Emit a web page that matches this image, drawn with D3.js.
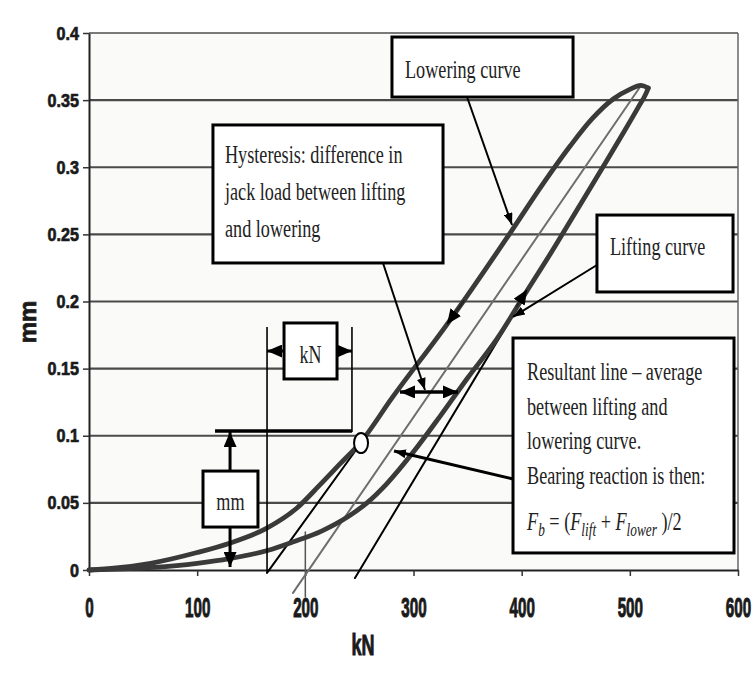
<!DOCTYPE html>
<html>
<head>
<meta charset="utf-8">
<script src="https://cdn.jsdelivr.net/npm/d3@7"></script>
<style>
  body { margin: 0; background: #fff; }
  svg { display: block; }
</style>
</head>
<body>
<script>
   // jack load (kN) against displacement (mm)
   let liftKN = [0, 30, 60, 100, 130, 165, 189, 215, 240, 257, 275, 300, 325, 350, 377, 405, 430, 451, 475, 495, 508, 515, 517];
   let liftMM = [0, 0.0008, 0.002, 0.005, 0.0085, 0.0145, 0.021, 0.029, 0.04, 0.05, 0.064, 0.088, 0.115, 0.143, 0.172, 0.208, 0.24, 0.268, 0.3, 0.327, 0.345, 0.355, 0.359];
   let lowerKN = [0, 25, 57, 100, 130, 164, 192, 213, 232, 251, 280, 331, 391, 420, 445, 465, 485, 500, 510, 517];
   let lowerMM = [0, 0.0015, 0.005, 0.013, 0.02, 0.031, 0.046, 0.063, 0.079, 0.095, 0.128, 0.183, 0.253, 0.288, 0.316, 0.336, 0.351, 0.358, 0.361, 0.359];

   let xTicks = [0, 100, 200, 300, 400, 500, 600];
   let yTicks = [0, 0.05, 0.1, 0.15, 0.2, 0.25, 0.3, 0.35, 0.4];
   let yTickLabels = ['0', '0.05', '0.1', '0.15', '0.2', '0.25', '0.3', '0.35', '0.4'];

   // straight construction lines [kN, mm]
   let tangentLower = [[164.6, -0.0022], [251.5, 0.0946]];
   let tangentLift = [[245.9, -0.006], [392, 0.19]];
   let resultantLine = [[188.6, -0.017], [509.4, 0.3598]];
   let mark200 = [[200, 0.0283], [200, -0.02]];
   let meanPoint = [251.5, 0.0946];

   // dimension lines for the kN / mm call-outs
   let dimLeft = [[164.6, 0.181], [164.6, -0.0022]];
   let dimRight = [[243.1, 0.181], [243.1, 0.1028]];
   let dimLevel = [[116.5, 0.1035], [243.1, 0.1035]];
   let kNArrowLeft = [[180.3, 0.1631], [164.6, 0.1631]];
   let kNArrowRight = [[229.3, 0.1631], [243.1, 0.1631]];
   let mmArrowUp = [[130.4, 0.0737], [130.4, 0.1028]];
   let mmArrowDown = [[130.4, 0.032], [130.4, 0.0022]];
   let hystArrow = [[287.5, 0.1326], [341.1, 0.1326]];

   // call-out pointers
   let arrowLowering = [[349.5, 0.3523], [391.1, 0.257]];
   let arrowHysteresis = [[271.8, 0.2287], [310.6, 0.1341]];
   let arrowLifting = [[469.6, 0.2272], [392, 0.1885]];
   let arrowResultant = [[392, 0.0678], [282, 0.0886]];
   let dirLowering = [[347, 0.201], [331, 0.183]];
   let dirLifting = [[395, 0.196], [405, 0.209]];

   // call-out boxes [kN left, mm top, kN right, mm bottom]
   let boxLowering = [280.1, 0.397, 447.5, 0.3523];
   let boxHysteresis = [114.6, 0.3315, 327.3, 0.2287];
   let boxLifting = [469.6, 0.2644, 595.4, 0.2071];
   let boxResultant = [392.0, 0.1728, 596.3, 0.0127];
   let boxKN = [180.3, 0.184, 229.3, 0.1423];
   let boxMM = [105.4, 0.0737, 156.2, 0.032];

   let width = 755;
   let height = 675;
   let svg = d3.select('body').append('svg')
      .attr('width', width)
      .attr('height', height);

   let xScale = d3.scaleLinear().domain([0, 600]).range([89, 738]);
   let yScale = d3.scaleLinear().domain([0, 0.4]).range([570, 33]);

   let defs = svg.append('defs');
   let makeArrow = (id, len, wid) => {
      defs.append('marker')
         .attr('id', id)
         .attr('markerUnits', 'userSpaceOnUse')
         .attr('viewBox', '0 0 ' + len + ' ' + wid)
         .attr('markerWidth', len)
         .attr('markerHeight', wid)
         .attr('refX', len)
         .attr('refY', wid / 2)
         .attr('orient', 'auto-start-reverse')
         .append('path')
         .attr('d', 'M0,0L' + len + ',' + (wid / 2) + 'L0,' + wid + 'Z')
         .attr('fill', '#000');
   };
   makeArrow('arrow', 12, 9);
   makeArrow('arrowBig', 15, 13);

   let seg = d3.line().x(d => xScale(d[0])).y(d => yScale(d[1]));

   let serif = '"Liberation Serif", "Times New Roman", serif';
   let sans = '"Liberation Sans", Arial, sans-serif';

   // text squeezed like the scanned original
   let addText = (g, x, y, str, size, sx, sy) => {
      return g.append('text')
         .attr('transform', 'translate(' + x + ',' + y + ') scale(' + sx + ',' + sy + ')')
         .attr('font-size', size)
         .text(str);
   };

   // plot area
   svg.append('rect')
      .attr('x', xScale(0)).attr('y', yScale(0.4))
      .attr('width', xScale(600) - xScale(0))
      .attr('height', yScale(0) - yScale(0.4))
      .attr('fill', '#fafaf9');

   svg.append('g')
      .selectAll('line')
      .data(yTicks.filter(t => t > 0))
      .enter()
      .append('line')
      .attr('x1', xScale(0)).attr('x2', xScale(600))
      .attr('y1', d => yScale(d)).attr('y2', d => yScale(d))
      .attr('stroke', d => d === 0.4 ? '#7a7a7a' : '#4a4a4a')
      .attr('stroke-width', 2.2);

   svg.append('line')
      .attr('x1', xScale(600)).attr('x2', xScale(600))
      .attr('y1', yScale(0.4)).attr('y2', yScale(0))
      .attr('stroke', '#666').attr('stroke-width', 1.5);

   // axes
   let yAxis = d3.axisLeft(yScale).tickValues(yTicks).tickSize(6).tickSizeOuter(0)
      .tickFormat((d, i) => yTickLabels[i]);
   let yG = svg.append('g').attr('transform', 'translate(' + xScale(0) + ',0)').call(yAxis);
   yG.select('.domain').attr('stroke', '#222').attr('stroke-width', 2);
   yG.selectAll('.tick line').attr('stroke', '#333').attr('stroke-width', 1.5);
   yG.selectAll('.tick text')
      .attr('x', null).attr('dy', null)
      .attr('transform', 'translate(-10,6) scale(0.85,1)');

   let xAxis = d3.axisBottom(xScale).tickValues(xTicks).tickSize(6).tickSizeOuter(0);
   let xG = svg.append('g').attr('transform', 'translate(0,' + yScale(0) + ')').call(xAxis);
   xG.select('.domain').attr('stroke', '#222').attr('stroke-width', 2);
   xG.selectAll('.tick line').attr('stroke', '#333').attr('stroke-width', 1.5);
   xG.selectAll('.tick text')
      .attr('y', null).attr('dy', null)
      .attr('transform', 'translate(0,47) scale(0.8,1.5)');

   svg.selectAll('.tick text')
      .style('font-family', sans).style('font-size', '19px').style('font-weight', 'bold')
      .attr('fill', '#1a1a1a').attr('stroke', '#1a1a1a').attr('stroke-width', 0.7);

   // axis titles
   svg.append('text')
      .attr('transform', 'translate(36,322) rotate(-90)')
      .attr('text-anchor', 'middle')
      .attr('font-family', sans).attr('font-weight', 'bold').attr('font-size', 24)
      .attr('fill', '#1a1a1a').attr('stroke', '#1a1a1a').attr('stroke-width', 0.7)
      .text('mm');
   addText(svg, 363, 655, 'kN', 20, 0.9, 1.5)
      .attr('text-anchor', 'middle')
      .attr('font-family', sans).attr('font-weight', 'bold')
      .attr('fill', '#1a1a1a').attr('stroke', '#1a1a1a').attr('stroke-width', 0.7);

   // construction lines
   let thin = svg.append('g').attr('fill', 'none').attr('stroke-linecap', 'round');
   thin.append('path').attr('d', seg(mark200)).attr('stroke', '#555').attr('stroke-width', 1.5);
   thin.append('path').attr('d', seg(resultantLine)).attr('stroke', '#6e6e6e').attr('stroke-width', 2);

   // hysteresis loop
   let loopLine = d3.line()
      .x(d => xScale(d[0]))
      .y(d => yScale(d[1]))
      .curve(d3.curveMonotoneX);
   let liftPts = liftKN.map((k, i) => [k, liftMM[i]]);
   let lowerPts = lowerKN.map((k, i) => [k, lowerMM[i]]);
   let loop = svg.append('g').attr('fill', 'none').attr('stroke-linecap', 'round').attr('stroke-linejoin', 'round');
   [liftPts, lowerPts].forEach(pts => {
      loop.append('path').attr('d', loopLine(pts)).attr('stroke', '#3a3a3a').attr('stroke-width', 4.8);
   });

   thin.append('path').attr('d', seg(tangentLower)).attr('stroke', '#000').attr('stroke-width', 2);
   thin.append('path').attr('d', seg(tangentLift)).attr('stroke', '#000').attr('stroke-width', 2);

   svg.append('ellipse')
      .attr('cx', xScale(meanPoint[0])).attr('cy', yScale(meanPoint[1]))
      .attr('rx', 7).attr('ry', 10)
      .attr('fill', '#fff').attr('stroke', '#000').attr('stroke-width', 2);

   // dimension marks
   let dims = svg.append('g').attr('fill', 'none').attr('stroke', '#000');
   dims.append('path').attr('d', seg(dimLeft)).attr('stroke-width', 1.6);
   dims.append('path').attr('d', seg(dimRight)).attr('stroke-width', 1.6);
   dims.append('path').attr('d', seg(dimLevel)).attr('stroke-width', 3.5);
   [kNArrowLeft, kNArrowRight, mmArrowUp, mmArrowDown].forEach(a => {
      dims.append('path').attr('d', seg(a)).attr('stroke-width', 3).attr('marker-end', 'url(#arrowBig)');
   });
   dims.append('path').attr('d', seg(hystArrow)).attr('stroke-width', 3.5)
      .attr('marker-start', 'url(#arrowBig)').attr('marker-end', 'url(#arrowBig)');

   // pointers
   [arrowLowering, arrowHysteresis, arrowLifting, arrowResultant].forEach((a, i) => {
      dims.append('path').attr('d', seg(a)).attr('stroke-width', i === 3 ? 3 : 2).attr('marker-end', 'url(#arrow)');
   });
   [dirLowering, dirLifting].forEach(a => {
      dims.append('path').attr('d', seg(a)).attr('stroke-width', 2).attr('stroke', '#262626').attr('marker-end', 'url(#arrowBig)');
   });

   // call-out boxes
   let drawBox = (b) => {
      let g = svg.append('g');
      g.append('rect')
         .attr('x', xScale(b[0])).attr('y', yScale(b[1]))
         .attr('width', xScale(b[2]) - xScale(b[0]))
         .attr('height', yScale(b[3]) - yScale(b[1]))
         .attr('fill', '#fff').attr('stroke', '#000').attr('stroke-width', 3);
      g.attr('font-family', serif).attr('fill', '#222');
      return g;
   };

   let gLow = drawBox(boxLowering);
   addText(gLow, xScale(boxLowering[0]) + 13, yScale(boxLowering[1]) + 41, 'Lowering curve', 26, 0.7, 1);

   let gHyst = drawBox(boxHysteresis);
   ['Hysteresis: difference in', 'jack load between lifting', 'and lowering'].forEach((s, i) => {
      addText(gHyst, xScale(boxHysteresis[0]) + 12, yScale(boxHysteresis[1]) + 38 + i * 37, s, 26, 0.7, 1);
   });

   let gLift = drawBox(boxLifting);
   addText(gLift, xScale(boxLifting[0]) + 13, yScale(boxLifting[1]) + 40, 'Lifting curve', 26, 0.7, 1);

   let gRes = drawBox(boxResultant);
   ['Resultant line \u2013 average', 'between lifting and', 'lowering curve.', 'Bearing reaction is then:'].forEach((s, i) => {
      addText(gRes, xScale(boxResultant[0]) + 14, yScale(boxResultant[1]) + 42 + i * 34.5, s, 26, 0.7, 1);
   });
   let f = addText(gRes, xScale(boxResultant[0]) + 14, yScale(boxResultant[1]) + 192, '', 26, 0.7, 1);
   let parts = [
      ['F', true, 0, 26], ['b', true, 6, 19], [' = (', false, -6, 26],
      ['F', true, 0, 26], ['lift', true, 6, 19], [' + ', false, -6, 26],
      ['F', true, 0, 26], ['lower', true, 6, 19], [' )/2', false, -6, 26]
   ];
   parts.forEach(p => {
      f.append('tspan').text(p[0])
         .attr('font-style', p[1] ? 'italic' : 'normal')
         .attr('dy', p[2]).attr('font-size', p[3]);
   });

   let gKN = drawBox(boxKN);
   addText(gKN, (xScale(boxKN[0]) + xScale(boxKN[2])) / 2, yScale(boxKN[1]) + 40, 'kN', 25, 0.72, 1)
      .attr('text-anchor', 'middle');

   let gMM = drawBox(boxMM);
   addText(gMM, (xScale(boxMM[0]) + xScale(boxMM[2])) / 2, yScale(boxMM[1]) + 39, 'mm', 26, 0.7, 1)
      .attr('text-anchor', 'middle');
</script>
</body>
</html>
